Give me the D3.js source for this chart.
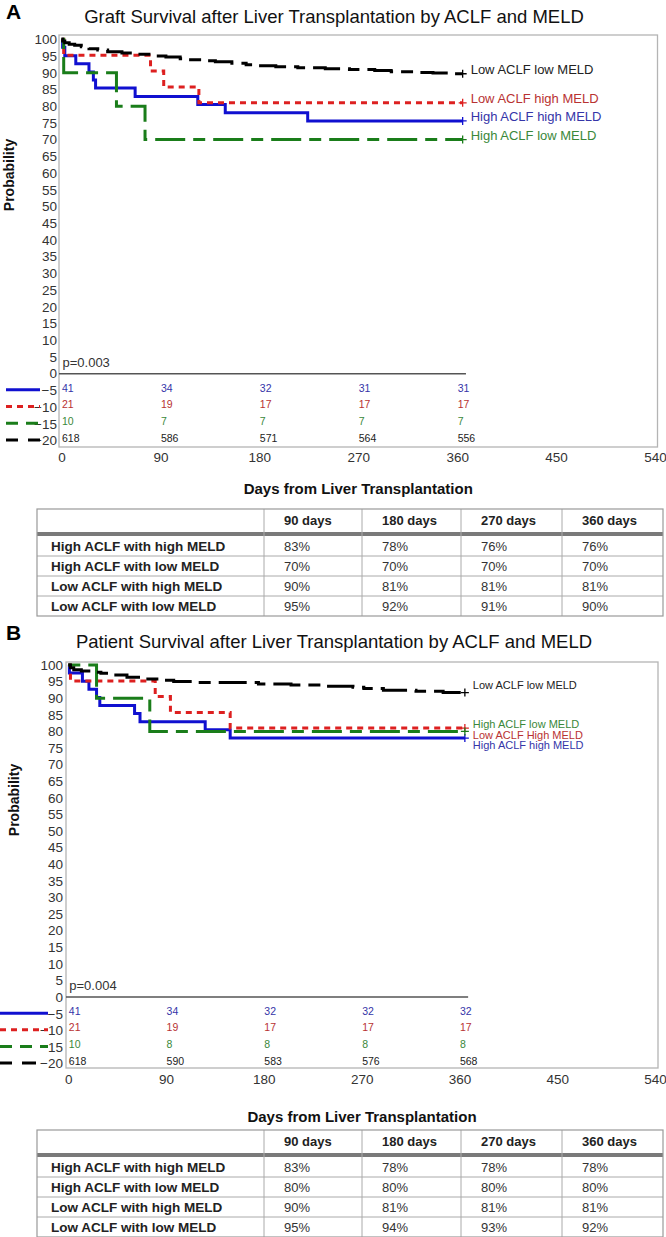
<!DOCTYPE html>
<html><head><meta charset="utf-8">
<script src="https://cdn.jsdelivr.net/npm/d3@7"></script>
<style>
body{margin:0;background:#fff;}
svg text{font-family:"Liberation Sans",Arial,sans-serif;}
</style>
</head><body>
<svg id="chart" width="666" height="1237"></svg>
<script>
// ---------------- DATA ----------------
const groups = ["High ACLF high MELD","Low ACLF high MELD","High ACLF low MELD","Low ACLF low MELD"];
const xTickValues = [0,90,180,270,360,450,540];
const yTickValues = [100,95,90,85,80,75,70,65,60,55,50,45,40,35,30,25,20,15,10,5,0,-5,-10,-15,-20];
const riskDays = [0,90,180,270,360];

// Graft survival (panel A) step curves: [day, survival %]
const graftHighHigh = [[0,100],[1,97.6],[3,95.1],[13,92.7],[25,90.2],[29,87.8],[31,85.4],[67,82.9],[124,80.5],[149,78.0],[224,75.6]];
const graftLowHigh  = [[0,100],[2,95.2],[81,90.5],[93,85.7],[125,81.0]];
const graftHighLow  = [[0,100],[2,90],[50,80],[76,70]];
const graftLowLow   = [[0,100],[1,99.5],[3,99],[7,98.5],[12,98.2],[18,97.8],[25,97.2],[33,96.8],[42,96.3],[55,95.9],[68,95.5],[85,95],[95,94.7],[108,94.2],[116,93.9],[128,93.6],[140,93.3],[155,92.8],[168,92.4],[177,92.1],[195,91.8],[215,91.5],[240,91.2],[262,91],[285,90.7],[300,90.3],[320,90.1],[338,89.9],[355,89.7]];

// Patient survival (panel B)
const patHighHigh = [[0,100],[1,97.6],[13,95.1],[19,92.7],[26,90.2],[29,87.8],[61,85.4],[66,82.9],[126,80.5],[149,78.0]];
const patLowHigh  = [[0,100],[2,95.2],[80,90.5],[94,85.7],[149,81.0]];
const patHighLow  = [[0,100],[26,90],[75,80]];
const patLowLow   = [[0,100],[2,99.2],[5,98.6],[12,98.2],[22,97.8],[30,97.5],[42,97],[54,96.3],[70,95.8],[85,95.4],[97,95],[118,94.7],[175,94.3],[205,94.0],[235,93.6],[262,93.3],[272,92.9],[290,92.4],[320,92.1],[345,91.7]];
const endDay = 365;

// Numbers at risk
const riskGraft = [[41,34,32,31,31],[21,19,17,17,17],[10,7,7,7,7],[618,586,571,564,556]];
const riskPatient = [[41,34,32,32,32],[21,19,17,17,17],[10,8,8,8,8],[618,590,583,576,568]];

// End labels
const endLabelsGraft = ["High ACLF high MELD","Low ACLF high MELD","High ACLF low MELD","Low ACLF low MELD"];
const endLabelsPatient = ["High ACLF high MELD","Low ACLF High MELD","High ACLF low MELD","Low ACLF low MELD"];

// Tables
const tableCols = ["90 days","180 days","270 days","360 days"];
const tableRows = ["High ACLF with high MELD","High ACLF with low MELD","Low ACLF with high MELD","Low ACLF with low MELD"];
const graftPct = [[83,78,76,76],[70,70,70,70],[90,81,81,81],[95,92,91,90]];
const patientPct = [[83,78,78,78],[80,80,80,80],[90,81,81,81],[95,94,93,92]];

// ---------------- STYLE ----------------
const lineColors = ["#1010d0","#dd2020","#1a7d1a","#000000"];
const textColors = ["#3535a8","#b83232","#3a883a","#222222"];
const dashes = [null,"6,5","12,8,30,8","28,8,12,8"];

const panels = [
  {letter:"A", title:"Graft Survival after Liver Transplantation by ACLF and MELD",
   curves:[graftHighHigh,graftLowHigh,graftHighLow,graftLowLow], risk:riskGraft, p:"p=0.003",
   labels:endLabelsGraft, labelY:[116.7,98.7,135,69], labelSize:13,
   frame:{l:59,t:35,r:657.5,b:447}, x0:61.5, x1:655, y100:39.3, yMin:440.5,
   yTickX:57, xTickY:463, xLabY:494, titleY:23, letterY:19, probX:14, probY:175,
   legX0:6, legX1:40, rows:graftPct, tableTop:509},
  {letter:"B", title:"Patient Survival after Liver Transplantation by ACLF and MELD",
   curves:[patHighHigh,patLowHigh,patHighLow,patLowLow], risk:riskPatient, p:"p=0.004",
   labels:endLabelsPatient, labelY:[745,734.7,724.3,685], labelSize:11,
   frame:{l:66,t:662,r:658,b:1068}, x0:68.3, x1:655, y100:665, yMin:1063.5,
   yTickX:63, xTickY:1085, xLabY:1122, titleY:648, letterY:640, probX:19, probY:800,
   legX0:0, legX1:48, rows:patientPct, tableTop:1130}
];

const svg = d3.select("#chart");

panels.forEach(P => {
  const g = svg.append("g");
  const x = d3.scaleLinear().domain([0,540]).range([P.x0,P.x1]);
  const y = d3.scaleLinear().domain([-20,100]).range([P.yMin,P.y100]);

  // letter & title
  g.append("text").attr("x",6).attr("y",P.letterY).attr("font-size",21).attr("font-weight","bold").text(P.letter);
  g.append("text").attr("x",334).attr("y",P.titleY).attr("text-anchor","middle").attr("font-size",18.5).attr("fill","#111").text(P.title);

  // frame
  g.append("rect").attr("x",P.frame.l).attr("y",P.frame.t).attr("width",P.frame.r-P.frame.l).attr("height",P.frame.b-P.frame.t)
    .attr("fill","none").attr("stroke","#b4b4b4").attr("stroke-width",1.3);

  // y axis
  const ya = d3.axisLeft(y).tickValues(yTickValues).tickSize(0).tickPadding(0).tickFormat(d3.format("d"));
  const yg = g.append("g").attr("transform",`translate(${P.yTickX},0)`).call(ya);
  yg.select(".domain").remove();
  yg.selectAll("text").attr("font-size",13.5).attr("fill","#333").attr("font-family","Liberation Sans, Arial, sans-serif");

  // x axis
  const xa = d3.axisBottom(x).tickValues(xTickValues).tickSize(0).tickPadding(0).tickFormat(d3.format("d"));
  const xg = g.append("g").attr("transform",`translate(0,${P.xTickY-11})`).call(xa);
  xg.select(".domain").remove();
  xg.selectAll("text").attr("font-size",13.5).attr("fill","#333").attr("font-family","Liberation Sans, Arial, sans-serif");

  // axis labels
  g.append("text").attr("transform",`translate(${P.probX},${P.probY}) rotate(-90)`).attr("text-anchor","middle")
    .attr("font-size",14).attr("font-weight","bold").attr("fill","#111").text("Probability");
  g.append("text").attr("x",(P.frame.l+P.frame.r)/2).attr("y",P.xLabY).attr("text-anchor","middle")
    .attr("font-size",15).attr("font-weight","bold").attr("fill","#111").text("Days from Liver Transplantation");

  // zero line
  g.append("line").attr("x1",P.frame.l).attr("x2",x(368)).attr("y1",y(0)).attr("y2",y(0))
    .attr("stroke","#555").attr("stroke-width",1.5);

  // p value
  g.append("text").attr("x",x(0)+1).attr("y",y(3.5)+5).attr("font-size",13).attr("fill","#333").text(P.p);

  // curves
  const line = d3.line().x(d=>x(d[0])).y(d=>y(d[1])).curve(d3.curveStepAfter);
  P.curves.forEach((c,i) => {
    const pts = c.concat([[endDay,c[c.length-1][1]]]);
    const path = g.append("path").attr("d",line(pts)).attr("fill","none")
      .attr("stroke",lineColors[i]).attr("stroke-width",3);
    if (dashes[i]) path.attr("stroke-dasharray",dashes[i]);
    const ex = x(endDay), ey = y(c[c.length-1][1]);
    g.append("path").attr("d",`M${ex-4},${ey}H${ex+4}M${ex},${ey-4}V${ey+4}`)
      .attr("stroke",lineColors[i]).attr("stroke-width",1.3).attr("fill","none");
    g.append("text").attr("x",ex+8).attr("y",P.labelY[i]).attr("dy","0.35em")
      .attr("font-size",P.labelSize).attr("fill",textColors[i]).text(P.labels[i]);
  });

  // at-risk table & legend lines
  const rowVals = [-5,-10,-15,-20];
  P.risk.forEach((r,i) => {
    const ly = y(rowVals[i]);
    const ll = g.append("line").attr("x1",P.legX0).attr("x2",P.legX1).attr("y1",ly-0.5).attr("y2",ly-0.5)
      .attr("stroke",lineColors[i]).attr("stroke-width",3);
    if (dashes[i]) ll.attr("stroke-dasharray", i===3 ? "12,10,14" : (i===2?"12,8":dashes[i]));
    r.forEach((v,j) => {
      g.append("text").attr("x",x(riskDays[j])+0.5).attr("y",ly-2.5).attr("dy","0.35em")
        .attr("font-size",10.5).attr("fill",textColors[i]).text(v);
    });
  });

  // summary table
  const T = {l:37, r:663, cols:[264,362,461,562], top:P.tableTop, hdrH:23, sepH:4, rowH:20};
  const tg = g.append("g");
  const rowsTop = T.top + T.hdrH + T.sepH;
  const bottom = rowsTop + 4*T.rowH;
  tg.append("rect").attr("x",T.l).attr("y",T.top+T.hdrH).attr("width",T.r-T.l).attr("height",T.sepH).attr("fill","#7a7a7a");
  for (let k=1;k<4;k++) tg.append("line").attr("x1",T.l).attr("x2",T.r).attr("y1",rowsTop+k*T.rowH).attr("y2",rowsTop+k*T.rowH).attr("stroke","#aaa").attr("stroke-width",1);
  T.cols.forEach(cx => tg.append("line").attr("x1",cx).attr("x2",cx).attr("y1",T.top).attr("y2",bottom).attr("stroke","#aaa").attr("stroke-width",1));
  tg.append("rect").attr("x",T.l).attr("y",T.top).attr("width",T.r-T.l).attr("height",bottom-T.top).attr("fill","none").attr("stroke","#999").attr("stroke-width",1.2);
  tableCols.forEach((c,j) => tg.append("text").attr("x",T.cols[j]+20).attr("y",T.top+T.hdrH/2).attr("dy","0.35em")
      .attr("font-family","Lato, sans-serif").attr("font-size",13).attr("font-weight","bold").attr("fill","#222").text(c));
  tableRows.forEach((rn,i) => {
    const cy = rowsTop + i*T.rowH + T.rowH/2;
    tg.append("text").attr("x",T.l+14).attr("y",cy).attr("dy","0.35em").attr("font-family","Lato, sans-serif")
      .attr("font-size",13.5).attr("font-weight","bold").attr("fill","#222").text(rn);
    P.rows[i].forEach((v,j) => tg.append("text").attr("x",T.cols[j]+20).attr("y",cy).attr("dy","0.35em")
      .attr("font-family","Lato, sans-serif").attr("font-size",13).attr("fill","#333").text(v+"%"));
  });
});
</script>
</body></html>
